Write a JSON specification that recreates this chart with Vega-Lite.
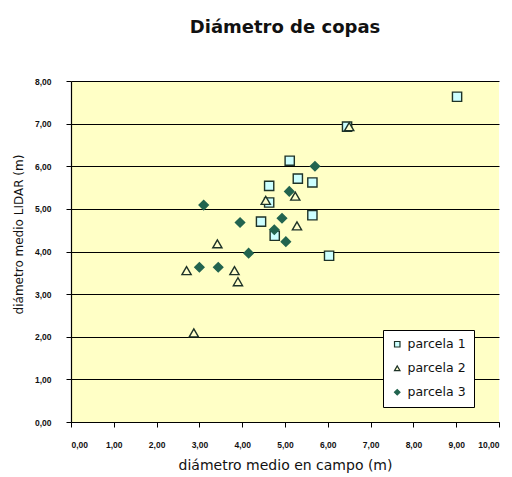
{
  "$schema": "https://vega.github.io/schema/vega-lite/v6.json",
  "width": 428,
  "height": 341,
  "autosize": {"type": "none"},
  "padding": {"left": 71, "top": 81, "right": 13, "bottom": 55},
  "background": "white",
  "title": {
    "text": "Diámetro de copas",
    "font": "DejaVu Sans",
    "fontSize": 18,
    "fontWeight": "bold",
    "color": "#111111",
    "anchor": "middle",
    "offset": 40
  },
  "config": {
    "locale": {"number": {"decimal": ",", "thousands": ".", "grouping": [3], "currency": ["", " €"]}},
    "view": {"stroke": null, "fill": "#FFFFC6"},
    "axis": {"labelFont": "Liberation Sans", "titleFont": "DejaVu Sans", "labelColor": "#111", "titleColor": "#111"}
  },
  "data": {"values": [
    {"parcela": "parcela 1", "campo": 9.02, "lidar": 7.63},
    {"parcela": "parcela 1", "campo": 6.45, "lidar": 6.93},
    {"parcela": "parcela 1", "campo": 5.11, "lidar": 6.13},
    {"parcela": "parcela 1", "campo": 5.30, "lidar": 5.71},
    {"parcela": "parcela 1", "campo": 5.64, "lidar": 5.62},
    {"parcela": "parcela 1", "campo": 4.63, "lidar": 5.54},
    {"parcela": "parcela 1", "campo": 4.63, "lidar": 5.15},
    {"parcela": "parcela 1", "campo": 5.64, "lidar": 4.85},
    {"parcela": "parcela 1", "campo": 4.44, "lidar": 4.70},
    {"parcela": "parcela 1", "campo": 4.76, "lidar": 4.37},
    {"parcela": "parcela 1", "campo": 6.03, "lidar": 3.90},
    {"parcela": "parcela 2", "campo": 6.50, "lidar": 6.93},
    {"parcela": "parcela 2", "campo": 4.55, "lidar": 5.20},
    {"parcela": "parcela 2", "campo": 5.24, "lidar": 5.30},
    {"parcela": "parcela 2", "campo": 5.28, "lidar": 4.60},
    {"parcela": "parcela 2", "campo": 3.42, "lidar": 4.18},
    {"parcela": "parcela 2", "campo": 2.70, "lidar": 3.55},
    {"parcela": "parcela 2", "campo": 3.82, "lidar": 3.55},
    {"parcela": "parcela 2", "campo": 3.90, "lidar": 3.29},
    {"parcela": "parcela 2", "campo": 2.87, "lidar": 2.09},
    {"parcela": "parcela 3", "campo": 5.70, "lidar": 6.00},
    {"parcela": "parcela 3", "campo": 5.10, "lidar": 5.41},
    {"parcela": "parcela 3", "campo": 3.10, "lidar": 5.09},
    {"parcela": "parcela 3", "campo": 3.95, "lidar": 4.68},
    {"parcela": "parcela 3", "campo": 4.93, "lidar": 4.78},
    {"parcela": "parcela 3", "campo": 4.75, "lidar": 4.51},
    {"parcela": "parcela 3", "campo": 5.02, "lidar": 4.23},
    {"parcela": "parcela 3", "campo": 4.15, "lidar": 3.96},
    {"parcela": "parcela 3", "campo": 3.00, "lidar": 3.63},
    {"parcela": "parcela 3", "campo": 3.44, "lidar": 3.63}
  ]},
  "mark": {"type": "point", "filled": true, "size": 85, "strokeWidth": 1.4, "opacity": 1},
  "encoding": {
    "x": {
      "field": "campo", "type": "quantitative",
      "scale": {"domain": [0, 10], "nice": false},
      "axis": {
        "title": "diámetro medio en campo (m)", "titleFontSize": 14, "titleFontWeight": "normal", "titlePadding": 10,
        "format": ".2f", "values": [0,1,2,3,4,5,6,7,8,9,10],
        "labelFontSize": 8.5, "labelFontWeight": "bold", "labelPadding": 13,
        "grid": false, "domainColor": "#000", "tickColor": "#000", "tickSize": 5, "domainWidth": 1.2
      }
    },
    "y": {
      "field": "lidar", "type": "quantitative",
      "scale": {"domain": [0, 8], "nice": false},
      "axis": {
        "title": "diámetro medio LIDAR (m)", "titleFontSize": 12, "titleFontWeight": "normal", "titlePadding": 9, "titleY": 153,
        "format": ".2f", "values": [0,1,2,3,4,5,6,7,8],
        "labelFontSize": 8.5, "labelFontWeight": "bold", "labelPadding": 15,
        "grid": true, "gridColor": "#000", "gridOpacity": 1, "gridWidth": 1.2,
        "domainColor": "#000", "tickColor": "#000", "tickSize": 5, "domainWidth": 1.2
      }
    },
    "shape": {
      "field": "parcela", "type": "nominal",
      "scale": {"domain": ["parcela 1", "parcela 2", "parcela 3"], "range": ["square", "triangle-up", "diamond"]},
      "legend": {
        "title": null, "orient": "none", "legendX": 312, "legendY": 249,
        "fillColor": "#FFFFFF", "strokeColor": "#000", "padding": 8,
        "labelFont": "DejaVu Sans", "labelFontSize": 12.5, "labelColor": "#111",
        "symbolSize": 30, "rowPadding": 11, "symbolStrokeWidth": 1.2
      }
    },
    "fill": {
      "field": "parcela", "type": "nominal",
      "scale": {"domain": ["parcela 1", "parcela 2", "parcela 3"], "range": ["#CCFFFF", "#FFFFCC", "#22644F"]}
    },
    "stroke": {
      "field": "parcela", "type": "nominal",
      "scale": {"domain": ["parcela 1", "parcela 2", "parcela 3"], "range": ["#1E3328", "#1E3328", "#22644F"]}
    }
  }
}
